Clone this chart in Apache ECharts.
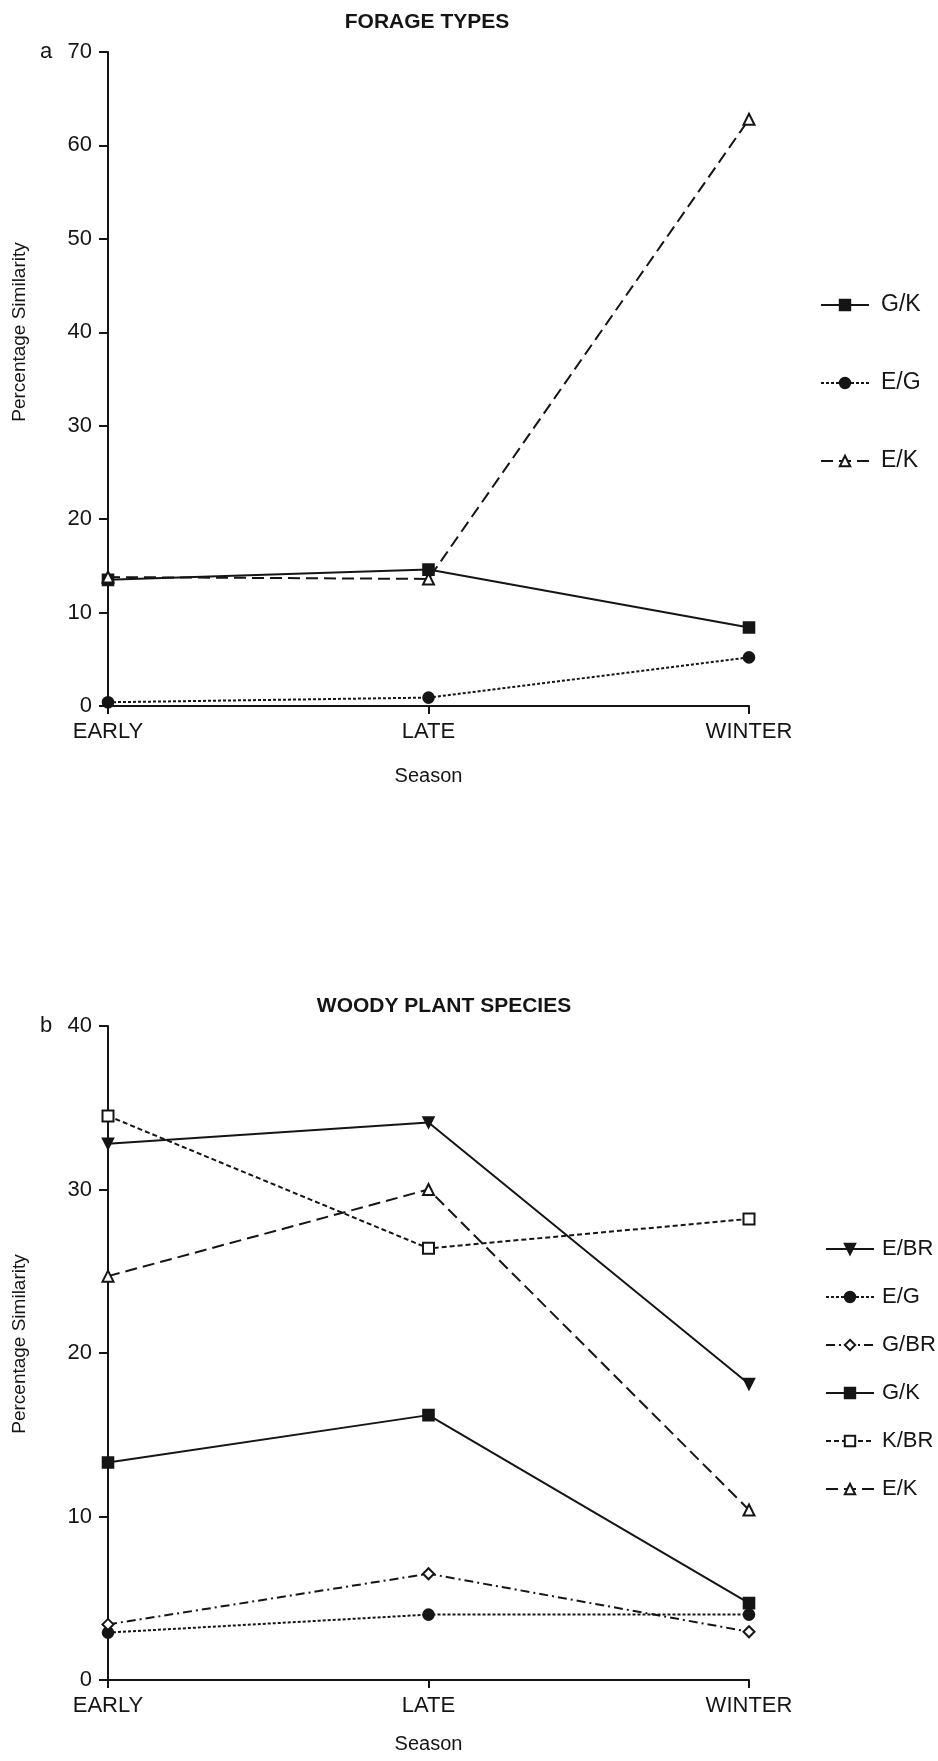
<!DOCTYPE html>
<html>
<head>
<meta charset="utf-8">
<title>Percentage similarity by season</title>
<script src="https://cdn.jsdelivr.net/npm/echarts@6/dist/echarts.min.js"></script>
<style>
  html, body { margin: 0; padding: 0; background: #ffffff; }
  #chart { width: 938px; height: 1761px; }
</style>
</head>
<body>
<div id="chart"></div>
<script>
// Seasons on the x axis
const seasons = ['EARLY', 'LATE', 'WINTER'];

// (a) Forage types – percentage similarity
const forageGK = [13.5, 14.6, 8.4];
const forageEG = [0.4, 0.9, 5.2];
const forageEK = [13.8, 13.6, 62.8];

// (b) Woody plant species – percentage similarity
const woodyEBR = [32.8, 34.1, 18.1];
const woodyEG  = [2.9, 4.0, 4.0];
const woodyGBR = [3.4, 6.5, 2.95];
const woodyGK  = [13.3, 16.2, 4.7];
const woodyKBR = [34.5, 26.4, 28.2];
const woodyEK  = [24.7, 30.0, 10.4];

// Y axis ranges
const forageMax = 70;
const woodyMax = 40;
const yStep = 10;

const INK = '#151515';
const FONT = '"Liberation Sans", Arial, Helvetica, sans-serif';

function xAxisFor(gridIndex, nameGap) {
  return {
    type: 'category',
    gridIndex: gridIndex,
    data: seasons,
    boundaryGap: false,
    name: 'Season',
    nameLocation: 'middle',
    nameGap: nameGap,
    nameTextStyle: { color: INK, fontSize: 20, fontFamily: FONT },
    axisLine: { lineStyle: { color: INK, width: 2 } },
    axisTick: { alignWithLabel: true, length: 8, lineStyle: { color: INK, width: 2 } },
    axisLabel: { color: INK, fontSize: 22, fontFamily: FONT, margin: 15 },
    splitLine: { show: false }
  };
}

function yAxisFor(gridIndex, max) {
  return {
    type: 'value',
    gridIndex: gridIndex,
    min: 0,
    max: max,
    interval: yStep,
    axisLine: { show: true, lineStyle: { color: INK, width: 2 } },
    axisTick: { show: true, length: 9, lineStyle: { color: INK, width: 2 } },
    axisLabel: { color: INK, fontSize: 22, fontFamily: FONT, margin: 16 },
    splitLine: { show: false }
  };
}

function line(name, data, axisIndex, symbol, dash, extra) {
  return Object.assign({
    name: name,
    type: 'line',
    xAxisIndex: axisIndex,
    yAxisIndex: axisIndex,
    data: data,
    symbol: symbol,
    symbolSize: 11,
    showAllSymbol: true,
    lineStyle: { color: INK, width: 2, type: dash },
    itemStyle: { color: INK, borderColor: INK, borderWidth: 1.6 },
    emphasis: { disabled: true },
    animation: false,
    z: 3
  }, extra || {});
}

const chart = echarts.init(document.getElementById('chart'), null, { renderer: 'canvas' });

const legendTextA = { color: INK, fontSize: 23, fontFamily: FONT, lineHeight: 24, padding: [0, 0, 0, 7] };
const legendTextB = { color: INK, fontSize: 22, fontFamily: FONT, lineHeight: 24, padding: [0, 0, 0, 3] };

chart.setOption({
  backgroundColor: '#ffffff',
  animation: false,
  grid: [
    { left: 108, top: 52, width: 641, height: 654 },
    { left: 108, top: 1026, width: 641, height: 654 }
  ],
  xAxis: [xAxisFor(0, 60), xAxisFor(1, 54)],
  yAxis: [yAxisFor(0, forageMax), yAxisFor(1, woodyMax)],
  legend: [
    {
      orient: 'vertical',
      left: 815,
      top: 288,
      itemWidth: 48,
      itemHeight: 13,
      itemGap: 54,
      selectedMode: false,
      textStyle: legendTextA,
      data: ['G/K', 'E/G', 'E/K']
    },
    {
      orient: 'vertical',
      left: 820,
      top: 1232,
      itemWidth: 48,
      itemHeight: 13,
      itemGap: 24,
      selectedMode: false,
      textStyle: legendTextB,
      data: ['E/BR', 'E/G', 'G/BR', 'G/K', 'K/BR', 'E/K']
    }
  ],
  graphic: [
    { type: 'text', x: 427, y: 22, style: { text: 'FORAGE TYPES', fill: INK, font: 'bold 21px ' + FONT, textAlign: 'center', textVerticalAlign: 'middle' } },
    { type: 'text', x: 444, y: 1006, style: { text: 'WOODY PLANT SPECIES', fill: INK, font: 'bold 21px ' + FONT, textAlign: 'center', textVerticalAlign: 'middle' } },
    { type: 'text', x: 46, y: 52, style: { text: 'a', fill: INK, font: '22px ' + FONT, textAlign: 'center', textVerticalAlign: 'middle' } },
    { type: 'text', x: 46, y: 1026, style: { text: 'b', fill: INK, font: '22px ' + FONT, textAlign: 'center', textVerticalAlign: 'middle' } },
    { type: 'text', x: 20, y: 332, rotation: Math.PI / 2, style: { text: 'Percentage Similarity', fill: INK, font: '19px ' + FONT, textAlign: 'center', textVerticalAlign: 'middle' } },
    { type: 'text', x: 20, y: 1344, rotation: Math.PI / 2, style: { text: 'Percentage Similarity', fill: INK, font: '19px ' + FONT, textAlign: 'center', textVerticalAlign: 'middle' } }
  ],
  series: [
    // (a) forage types
    line('G/K', forageGK, 0, 'rect', 'solid'),
    line('E/G', forageEG, 0, 'circle', [3, 2]),
    line('E/K', forageEK, 0, 'emptyTriangle', [12, 6]),
    // (b) woody plant species
    line('E/BR', woodyEBR, 1, 'triangle', 'solid', { symbolRotate: 180 }),
    line('E/G', woodyEG, 1, 'circle', [3, 2]),
    line('G/BR', woodyGBR, 1, 'emptyDiamond', [9, 4, 2, 4]),
    line('G/K', woodyGK, 1, 'rect', 'solid'),
    line('K/BR', woodyKBR, 1, 'emptyRect', [5, 3]),
    line('E/K', woodyEK, 1, 'emptyTriangle', [12, 6])
  ]
});
</script>
</body>
</html>
